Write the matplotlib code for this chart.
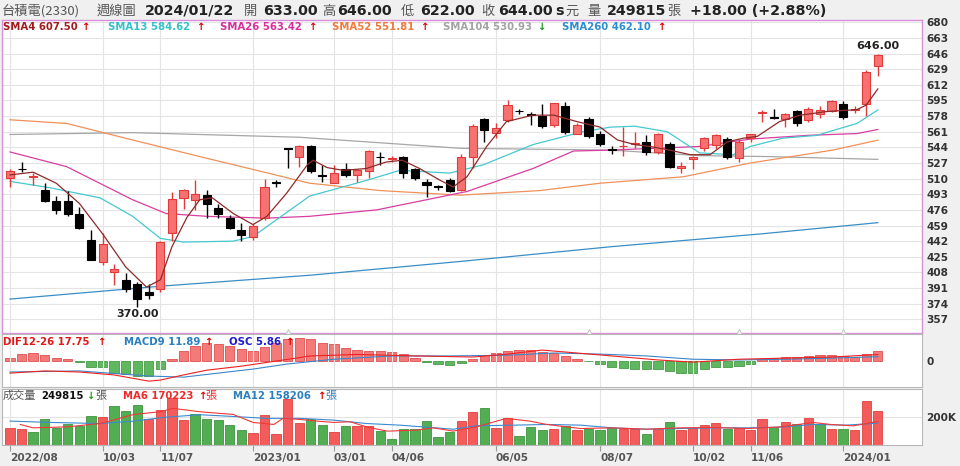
import matplotlib
matplotlib.use('Agg')
import matplotlib.pyplot as plt
import numpy as np

# ---------------- data ----------------
opens  = [511, 521, 512, 498, 486, 486, 472, 443, 419, 408, 400, 395, 387, 390, 451, 489, 487, 492, 478, 467,
          454, 446, 467, 506, 543, 534, 545, 514, 505, 520, 514, 518, 534, 531, 533, 520, 506, 502, 509, 498,
          533, 575, 560, 574, 584, 580, 578, 568, 589, 559, 575, 558, 542, 545, 548, 550, 539, 548, 522, 531,
          543, 547, 553, 532, 554, 581, 577, 575, 583, 574, 580, 583, 591, 585, 591, 633]
highs  = [520, 528, 516, 505, 491, 496, 479, 454, 451, 417, 407, 398, 395, 442, 495, 499, 509, 498, 482, 470,
          462, 461, 510, 509, 543, 547, 547, 525, 525, 527, 521, 541, 539, 535, 535, 522, 510, 503, 511, 537,
          569, 576, 570, 596, 586, 582, 591, 592, 593, 571, 577, 562, 546, 566, 561, 557, 560, 550, 528, 535,
          555, 558, 555, 552, 559, 585, 586, 581, 585, 588, 589, 595, 594, 589, 628, 646]
lows   = [501, 517, 503, 485, 472, 469, 455, 421, 416, 394, 387, 370, 379, 387, 442, 477, 476, 467, 467, 455,
          442, 443, 465, 501, 522, 523, 516, 506, 505, 512, 506, 511, 525, 528, 511, 509, 490, 498, 495, 496,
          522, 550, 554, 572, 580, 568, 565, 566, 559, 558, 554, 546, 537, 535, 543, 536, 537, 522, 516, 520,
          540, 542, 531, 528, 550, 572, 575, 566, 567, 572, 576, 582, 575, 581, 578, 622]
closes = [518, 520, 513, 486, 476, 471, 456, 422, 439, 412, 390, 379, 383, 441, 488, 498, 493, 482, 471, 456,
          449, 459, 501, 505, 542, 545, 518, 513, 516, 514, 519, 540, 533, 532, 516, 511, 503, 501, 497, 533,
          567, 563, 565, 590, 583, 579, 567, 592, 561, 568, 556, 548, 541, 546, 549, 539, 559, 523, 524, 534,
          554, 557, 534, 550, 558, 582, 576, 580, 571, 586, 585, 594, 577, 586, 626, 644]

volumes_k = [123, 113, 91, 190, 123, 148, 138, 210, 202, 286, 247, 291, 185, 254, 341, 182, 224, 185, 182, 145,
             106, 86, 217, 74, 336, 156, 185, 145, 93, 138, 138, 136, 101, 44, 113, 113, 173, 56, 93, 173,
             241, 267, 123, 197, 61, 128, 106, 116, 138, 106, 113, 104, 123, 116, 113, 81, 116, 167, 106, 123,
             143, 156, 113, 123, 104, 187, 130, 167, 150, 193, 150, 113, 113, 108, 323, 250]
vol_up = [1, 1, 0, 0, 0, 0, 0, 0, 1, 0, 0, 0, 1, 1, 1, 1, 0, 0, 0, 0,
          0, 1, 1, 1, 1, 1, 0, 0, 1, 0, 1, 1, 0, 0, 0, 0, 0, 0, 0, 1,
          1, 0, 1, 1, 0, 0, 0, 1, 0, 1, 0, 0, 0, 1, 1, 0, 1, 0, 1, 1,
          1, 1, 0, 1, 1, 1, 0, 1, 0, 1, 0, 1, 0, 1, 1, 1]

# moving averages (bar index, value)
sma4_i  = [0, 2, 4, 6, 8, 10, 11.8, 13, 14, 15.3, 16.4, 17.5, 19.3, 21, 22.2, 23.9, 25.7, 26.2, 27.4, 28.8, 30.8,
           32.5, 33.9, 35.4, 37.2, 38.3, 39.5, 41.2, 42.9, 45.2, 47, 49, 51, 52.5, 54, 55.3, 57, 58.8, 60.5, 62,
           63.4, 64.6, 66.5, 68.3, 70.6, 73.2, 74, 75]
sma4_v  = [514, 517, 505, 483, 450, 414, 392, 400, 436, 468, 487, 489, 472, 460, 469, 494, 525, 530, 522, 519, 521,
           528, 530, 521, 508, 501, 512, 545, 572, 579, 579, 572, 566, 552, 547, 545, 541, 536, 536, 550,
           554, 556, 572, 579, 583, 585, 590, 607.5]
sma13_i = [0, 3.5, 7.8, 10.6, 13, 15, 19.3, 21, 23, 25.9, 30.8, 33.7, 38, 40.9, 45.2, 49.5, 51.9, 54, 56.8, 59.6,
           62.5, 64, 66.8, 69.7, 73.2, 75]
sma13_v = [507, 500, 489, 469, 445, 441, 442, 447, 465, 491, 508, 519, 516, 525, 547, 561, 566, 567, 561, 538,
           536, 545, 554, 557, 570, 584.62]
sma26_i = [0, 4.9, 10.6, 13.5, 17, 22.2, 25.9, 31.7, 39.5, 45.2, 48.7, 51.9, 59.6, 64, 68.9, 73.2, 75]
sma26_v = [539, 523, 487, 472, 469, 467, 469, 476, 496, 521, 540, 541, 545, 553, 557, 559, 563.42]
sma52_i = [0, 4.9, 10.6, 16.4, 25.9, 32, 38.9, 45.8, 51, 58.2, 64, 71.1, 75]
sma52_v = [574, 570, 552, 534, 505, 497, 492, 497, 505, 512, 527, 541, 551.81]
sma104_i = [0, 10.6, 25, 38.9, 51.9, 59.6, 65.4, 75]
sma104_v = [558, 560, 555, 543, 541, 535, 534, 530.93]
sma260_i = [0, 13, 26, 39, 52, 65, 75]
sma260_v = [379, 393, 405, 420, 436, 450, 462.10]

# MACD
dif_i  = [0, 3, 6, 9, 12, 13, 15, 17, 20, 23, 26, 30, 35, 40, 43, 46, 49, 52, 56, 59, 63, 67, 71, 75]
dif_v  = [-33, -27, -30, -38, -55, -52, -38, -25, -14, 0, 14, 18, 14, 11, 19, 30, 22, 14, 3, -3, 5, 8, 11, 17.75]
macd_i = [0, 6, 12, 15, 18, 21, 24, 28, 33, 38, 43, 47, 51, 55, 59, 63, 67, 71, 75]
macd_v = [-30, -27, -41, -44, -33, -22, -8, 5, 14, 14, 16, 22, 19, 14, 5, 3, 5, 8, 11.89]
osc = [1.9, 3.8, 4.4, 3.2, 1.9, 1.0, -0.4, -3.2, -3.6, -6.6, -7.6, -8.4, -8.4, -4.5, 1.1, 5.9, 8.5, 10.1, 9.7, 8.5,
       6.8, 5.9, 7.8, 10.1, 12.3, 12.9, 12.3, 10.4, 9.5, 7.6, 6.3, 5.9, 5.5, 5.1, 4.0, 1.9, -0.6, -1.9, -2.3, -1.3,
       1.1, 3.4, 4.4, 5.9, 6.3, 6.3, 4.9, 4.7, 2.8, 1.1, -0.2, -1.9, -3.6, -4.1, -4.5, -4.7, -4.5, -5.5, -6.6, -6.6,
       -4.7, -3.6, -3.6, -2.8, -1.9, 1.0, 1.9, 2.4, 2.4, 2.8, 3.2, 3.4, 2.8, 2.1, 4.0, 5.86]

# volume moving averages (bar index, thousands)
vma6_i = [0.9, 2, 4.9, 7.8, 10.7, 13, 14.1, 16.4, 19.3, 21, 22.8, 23.6, 25.1, 26.5, 28, 29.4, 30.8, 32.6, 35.1, 36.6,
          38.3, 40.3, 42.9, 44.9, 46.4, 49.3, 52.1, 55, 57.9, 60.8, 63.7, 66.6, 69.4, 70.9, 72.9, 75]
vma6_v = [148, 123, 130, 155, 222, 242, 267, 242, 222, 163, 148, 193, 185, 173, 163, 168, 130, 99, 106, 123,
          99, 130, 193, 173, 148, 118, 123, 113, 123, 126, 118, 130, 163, 148, 138, 170.2]
vma12_i = [0, 3.5, 7.8, 10.7, 13.5, 16.4, 19.3, 22.2, 25.1, 28, 30.8, 33.7, 38.3, 40.3, 43.5, 46.4, 49.3, 52.1, 55,
           57.9, 60.8, 63.7, 66.6, 69.4, 72.3, 75]
vma12_v = [173, 163, 155, 173, 202, 220, 207, 193, 193, 180, 155, 143, 113, 138, 143, 148, 143, 123, 113,
           118, 123, 123, 128, 148, 143, 158.2]

price_ticks = [680, 663, 646, 629, 612, 595, 578, 561, 544, 527, 510, 493, 476, 459, 442, 425, 408, 391, 374, 357]
date_idx = [0, 8, 13, 21, 28, 33, 42, 51, 59, 64, 72]
date_labels = ['2022/08', '10/03', '11/07', '2023/01', '03/01', '04/06', '06/05', '08/07', '10/02', '11/06', '2024/01']
marker_idx = [24, 50, 63, 72]

# ---------------- figure ----------------
W, H = 960, 466
fig = plt.figure(figsize=(W / 100, H / 100), dpi=100)
fig.patch.set_facecolor('#f0f0f0')
CJK = ['Noto Sans CJK TC', 'DejaVu Sans']

def px_axes(x0, y0, x1, y1):
    return fig.add_axes([x0 / W, 1 - y1 / H, (x1 - x0) / W, (y1 - y0) / H])

def ftext(x, y, s, **kw):
    kw.setdefault('va', 'center')
    kw.setdefault('ha', 'left')
    fig.text(x / W, 1 - y / H, s, **kw)

def right_labels(a):
    a.yaxis.tick_right()
    a.tick_params(axis='y', length=0, pad=3, labelsize=7.6, labelcolor='#333333')
    for t in a.get_yticklabels():
        t.set_fontweight('bold')

idx = np.arange(len(closes))
XL = (-0.69, 78.82)
RED_FILL, RED_EDGE = '#f77171', '#e23a3a'
GRID = '#e4e4e4'

# ---- main price panel ----
ax = px_axes(2, 20, 922, 333)
ax.set_facecolor('white')
ax.set_xlim(*XL)
ax.set_ylim(342.1, 682.5)
ax.set_yticks(price_ticks)
right_labels(ax)
ax.set_xticks(date_idx)
ax.tick_params(axis='x', length=0, labelbottom=False)
ax.grid(True, color=GRID, lw=0.8)
ax.set_axisbelow(True)
for s in ax.spines.values():
    s.set_color('#d891d8')
    s.set_linewidth(1)

o = np.array(opens, float); c = np.array(closes, float)
hi = np.array(highs, float); lo = np.array(lows, float)
up = c >= o
wick_col = np.where(up, RED_EDGE, '#000000')
ax.vlines(idx, lo, hi, colors=wick_col, lw=1, zorder=3)
body_lo = np.minimum(o, c)
body_h = np.maximum(np.abs(c - o), 0.9)
ax.bar(idx, body_h, bottom=body_lo, width=0.7, color=np.where(up, RED_FILL, '#000000'),
       edgecolor=wick_col, linewidth=0.8, zorder=4)

ax.plot(sma260_i, sma260_v, color='#3a8ec6', lw=0.9, zorder=2)
ax.plot(sma104_i, sma104_v, color='#a6a6a6', lw=0.9, zorder=2)
ax.plot(sma52_i, sma52_v, color='#f0915a', lw=0.9, zorder=2)
ax.plot(sma26_i, sma26_v, color='#d83ea2', lw=0.9, zorder=2)
ax.plot(sma13_i, sma13_v, color='#46c8cf', lw=0.9, zorder=2)
ax.plot(sma4_i, sma4_v, color='#8e2a2a', lw=0.9, zorder=5)

imax = int(np.argmax(hi)); imin = int(np.argmin(lo))
ax.annotate(f'{hi[imax]:.2f}', (imax, hi[imax]), xytext=(0, 1.5), textcoords='offset points',
            ha='center', va='bottom', fontsize=8, fontweight='bold', color='#222222')
ax.annotate(f'{lo[imin]:.2f}', (imin, lo[imin]), xytext=(0, -1.5), textcoords='offset points',
            ha='center', va='top', fontsize=8, fontweight='bold', color='#222222')
ax.plot(marker_idx, [342.1] * len(marker_idx), linestyle='none', marker='^', ms=6,
        mfc='white', mec='#c8c8c8', mew=0.8, clip_on=False, zorder=6)

# ---- MACD panel ----
am = px_axes(2, 334, 922, 387)
am.set_facecolor('white')
ah = am.twinx()
am.set_xlim(*XL)
am.set_ylim(-71, 74)
am.set_xticks(date_idx)
am.set_yticks([0])
am.set_yticklabels(['0'])
right_labels(am)
am.tick_params(axis='x', length=0, labelbottom=False)
am.grid(True, axis='x', color=GRID, lw=0.8)
for s in am.spines.values():
    s.set_color('#b8b8b8')
ah.set_ylim(-14.8, 15.3)
ah.set_xlim(*XL)
ah.set_yticks([])
ah.tick_params(axis='y', length=0, labelright=False, labelleft=False)
oscv = np.array(osc)
ah.bar(idx, oscv, width=0.8, color=np.where(oscv >= 0, '#f47a7a', '#5fb85f'),
       edgecolor=np.where(oscv >= 0, '#e05050', '#4a9a4a'), linewidth=0.6, zorder=2)
for s in ah.spines.values():
    s.set_visible(False)
am.set_zorder(ah.get_zorder() + 1)
am.patch.set_visible(False)
ah.patch.set_facecolor('white')
ah.patch.set_visible(True)
am.plot(macd_i, macd_v, color='#3a86c8', lw=0.8)
am.plot(dif_i, dif_v, color='#ee2020', lw=0.8)

# ---- volume panel ----
av = px_axes(2, 389, 922, 444.5)
av.set_facecolor('white')
av.set_xlim(*XL)
av.set_ylim(0, 410)
av.set_yticks([200])
av.set_yticklabels(['200K'])
right_labels(av)
av.set_xticks(date_idx)
av.set_xticklabels(date_labels, ha='left')
av.tick_params(axis='x', length=4, color='#999999', pad=2, labelsize=7.6, labelcolor='#555555')
for t in av.get_xticklabels():
    t.set_fontweight('bold')
av.grid(True, color=GRID, lw=0.8)
av.set_axisbelow(True)
for s in av.spines.values():
    s.set_color('#b8b8b8')
vu = np.array(vol_up, bool)
av.bar(idx, volumes_k, width=0.8, color=np.where(vu, '#f45c5c', '#53ad53'),
       edgecolor=np.where(vu, '#e04040', '#3f943f'), linewidth=0.6, zorder=2)
av.plot(vma12_i, vma12_v, color='#3a8ad0', lw=0.8, zorder=3)
av.plot(vma6_i, vma6_v, color='#f03838', lw=0.8, zorder=3)

# ---------------- texts ----------------
TY = 11
GR = '#555555'
ftext(2, TY, '台積電(2330)', fontsize=9.5, color=GR, family=CJK)
ftext(97, TY, '週線圖', fontsize=9.5, color=GR, family=CJK)
ftext(145, TY, '2024/01/22', fontsize=10.3, fontweight='bold', color='#222222')
ftext(244, TY, '開', fontsize=9.5, color=GR, family=CJK)
ftext(263, TY, '633.00', fontsize=10.3, fontweight='bold', color='#222222')
ftext(322, TY, '高', fontsize=9.5, color=GR, family=CJK)
ftext(337, TY, '646.00', fontsize=10.3, fontweight='bold', color='#222222')
ftext(401, TY, '低', fontsize=9.5, color=GR, family=CJK)
ftext(420, TY, '622.00', fontsize=10.3, fontweight='bold', color='#222222')
ftext(481, TY, '收', fontsize=9.5, color=GR, family=CJK)
ftext(498, TY, '644.00', fontsize=10.3, fontweight='bold', color='#222222')
ftext(555, TY, 's', fontsize=10.3, fontweight='bold', color='#222222')
ftext(565, TY, '元', fontsize=9.5, color=GR, family=CJK)
ftext(587, TY, '量', fontsize=9.5, color=GR, family=CJK)
ftext(607, TY, '249815', fontsize=10.3, fontweight='bold', color='#222222')
ftext(667, TY, '張', fontsize=9.5, color=GR, family=CJK)
ftext(690, TY, '+18.00 (+2.88%)', fontsize=10.3, fontweight='bold', color='#222222')

UP, DN = '#e00000', '#1b9a1b'
LY = 27
LS = 7.3
legend = [(3, 'SMA4 607.50', '#a01c1c', 81, UP),
          (108, 'SMA13 584.62', '#34c1c9', 196, UP),
          (220, 'SMA26 563.42', '#d7309b', 308, UP),
          (332, 'SMA52 551.81', '#f07a3a', 420, UP),
          (443, 'SMA104 530.93', '#a3a3a3', 537, DN),
          (562, 'SMA260 462.10', '#2b8fcf', 657, UP)]
for x, s, col, xa, acol in legend:
    ftext(x, LY, s, fontsize=LS, fontweight='bold', color=col)
    ftext(xa, LY, '↑' if acol == UP else '↓', fontsize=LS, fontweight='bold', color=acol)

MY = 342
ftext(3, MY, 'DIF12-26 17.75', fontsize=LS, fontweight='bold', color='#e01818')
ftext(97, MY, '↑', fontsize=LS, fontweight='bold', color=UP)
ftext(124, MY, 'MACD9 11.89', fontsize=LS, fontweight='bold', color='#2a7fc0')
ftext(204, MY, '↑', fontsize=LS, fontweight='bold', color=UP)
ftext(229, MY, 'OSC 5.86', fontsize=LS, fontweight='bold', color='#1c1cd0')
ftext(285, MY, '↑', fontsize=LS, fontweight='bold', color=UP)

VY = 396
ftext(3, VY, '成交量', fontsize=8, color=GR, family=CJK)
ftext(41, VY, '249815', fontsize=LS, fontweight='bold', color='#111111')
ftext(86, VY, '↓', fontsize=LS, fontweight='bold', color=DN)
ftext(95, VY, '張', fontsize=8, color=GR, family=CJK)
ftext(123, VY, 'MA6 170223', fontsize=LS, fontweight='bold', color='#f02828')
ftext(198, VY, '↑', fontsize=LS, fontweight='bold', color=UP)
ftext(205, VY, '張', fontsize=8, color='#f02828', family=CJK)
ftext(233, VY, 'MA12 158206', fontsize=LS, fontweight='bold', color='#2a7fc0')
ftext(317, VY, '↑', fontsize=LS, fontweight='bold', color=UP)
ftext(325, VY, '張', fontsize=8, color='#2a7fc0', family=CJK)

fig.savefig('out.png', dpi=100, facecolor=fig.get_facecolor())
